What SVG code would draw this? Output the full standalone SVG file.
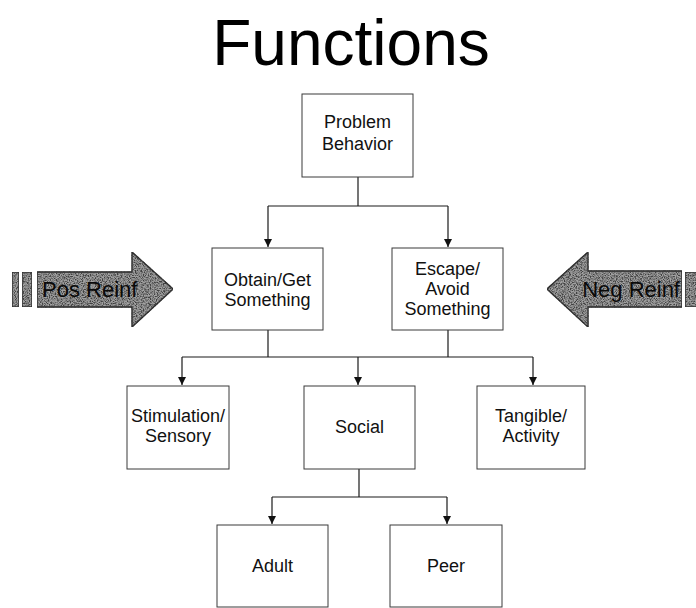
<svg xmlns="http://www.w3.org/2000/svg" width="696" height="608" viewBox="0 0 696 608">
  <style>
    .box { fill: #ffffff; stroke: #3a3a3a; stroke-width: 1; }
    .lbl { font-family: "Liberation Sans", Arial, sans-serif; font-size: 18px; fill: #111; text-anchor: middle; }
    .title { font-family: "Liberation Sans", Arial, sans-serif; font-size: 64px; fill: #000; text-anchor: middle; }
    .wire { fill: none; stroke: #1a1a1a; stroke-width: 1.2; }
    .big { fill: #a2a2a2; stroke: #222; stroke-width: 1.3; filter: url(#grain); }
    .tag { font-family: "Liberation Sans", Arial, sans-serif; font-size: 22px; fill: #0a0a0a; }
  </style>
  <defs>
    <marker id="tip" viewBox="0 0 10 10" refX="10" refY="5" markerWidth="8" markerHeight="9" markerUnits="userSpaceOnUse" orient="auto">
      <path d="M0,0 L10,5 L0,10 Z" fill="#111"/>
    </marker>
    <!-- speckled stone texture for the block arrows -->
    <filter id="grain" x="0" y="0" width="100%" height="100%">
      <feTurbulence type="fractalNoise" baseFrequency="0.85" numOctaves="2" seed="7" result="n"/>
      <feColorMatrix in="n" type="matrix" values="0 0 0 0 0.05  0 0 0 0 0.05  0 0 0 0 0.05  3 0 0 0 -1.05" result="speck"/>
      <feComposite in="speck" in2="SourceAlpha" operator="in" result="sp"/>
      <feMerge><feMergeNode in="SourceGraphic"/><feMergeNode in="sp"/></feMerge>
    </filter>
  </defs>

  <rect width="696" height="608" fill="#ffffff"/>

  <text class="title" x="351" y="65">Functions</text>

  <!-- block arrows -->
  <g id="pos-reinf">
    <rect class="big" x="12" y="272" width="7" height="35"/>
    <rect class="big" x="22" y="272" width="10" height="35"/>
    <path class="big" d="M37,272 L132,272 L132,252 L173,289 L132,327 L132,307 L37,307 Z"/>
    <text class="tag" x="42" y="297">Pos Reinf</text>
  </g>
  <g id="neg-reinf">
    <rect class="big" x="685" y="272" width="14" height="35"/>
    <path class="big" d="M682,271 L588,271 L588,252 L547,289 L588,327 L588,307 L682,307 Z"/>
    <text class="tag" x="680" y="297" text-anchor="end">Neg Reinf</text>
  </g>

  <!-- connectors -->
  <g id="connectors">
    <path class="wire" d="M358,177 V206"/>
    <path class="wire" d="M268,206 H448"/>
    <path class="wire" d="M268,206 V247" marker-end="url(#tip)"/>
    <path class="wire" d="M448,206 V247" marker-end="url(#tip)"/>

    <path class="wire" d="M268,330 V357"/>
    <path class="wire" d="M448,330 V357"/>
    <path class="wire" d="M182,357 H533"/>
    <path class="wire" d="M182,357 V385" marker-end="url(#tip)"/>
    <path class="wire" d="M358,357 V385" marker-end="url(#tip)"/>
    <path class="wire" d="M533,357 V385" marker-end="url(#tip)"/>

    <path class="wire" d="M359,469 V497"/>
    <path class="wire" d="M272,497 H447"/>
    <path class="wire" d="M272,497 V524" marker-end="url(#tip)"/>
    <path class="wire" d="M447,497 V524" marker-end="url(#tip)"/>
  </g>

  <!-- nodes -->
  <g id="problem-behavior">
    <rect class="box" x="302" y="94" width="111" height="83"/>
    <text class="lbl" x="357.5" y="128">Problem</text>
    <text class="lbl" x="357.5" y="150">Behavior</text>
  </g>
  <g id="obtain">
    <rect class="box" x="212" y="248" width="111" height="82"/>
    <text class="lbl" x="267.5" y="286">Obtain/Get</text>
    <text class="lbl" x="267.5" y="306">Something</text>
  </g>
  <g id="escape">
    <rect class="box" x="392" y="248" width="111" height="82"/>
    <text class="lbl" x="447.5" y="275">Escape/</text>
    <text class="lbl" x="447.5" y="295">Avoid</text>
    <text class="lbl" x="447.5" y="315">Something</text>
  </g>
  <g id="stimulation">
    <rect class="box" x="127" y="386" width="102" height="83"/>
    <text class="lbl" x="178" y="422">Stimulation/</text>
    <text class="lbl" x="178" y="442">Sensory</text>
  </g>
  <g id="social">
    <rect class="box" x="304" y="386" width="111" height="83"/>
    <text class="lbl" x="359.5" y="433">Social</text>
  </g>
  <g id="tangible">
    <rect class="box" x="477" y="386" width="108" height="83"/>
    <text class="lbl" x="531" y="422">Tangible/</text>
    <text class="lbl" x="531" y="442">Activity</text>
  </g>
  <g id="adult">
    <rect class="box" x="217" y="525" width="111" height="82"/>
    <text class="lbl" x="272.5" y="572">Adult</text>
  </g>
  <g id="peer">
    <rect class="box" x="390" y="525" width="112" height="82"/>
    <text class="lbl" x="446" y="572">Peer</text>
  </g>
</svg>
